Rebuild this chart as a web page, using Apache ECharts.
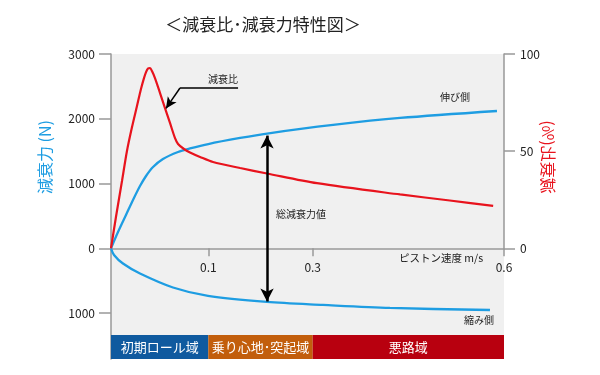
<!DOCTYPE html>
<html>
<head>
<meta charset="utf-8">
<script src="https://cdn.jsdelivr.net/npm/echarts@6/dist/echarts.min.js"></script>
<style>html,body{margin:0;padding:0;background:#fff;}#c{width:600px;height:375px;}</style>
</head>
<body>
<div id="c"></div>
<script>
// ---- Data ----
const titleText = '＜減衰比･減衰力特性図＞';
const leftAxisName = '減衰力 (N)';
const rightAxisName = '減衰比(%)';
const xAxisName = 'ピストン速度 m/s';

// piston speed (m/s) vs damping force (N), extension side
const tensionSpeed = [0, 0.0072, 0.0154, 0.0236, 0.0298, 0.036, 0.0432, 0.0534, 0.0689, 0.0812, 0.1, 0.161, 0.2125, 0.332, 0.437, 0.589];
const tensionForce = [0, 251, 514, 776, 961, 1116, 1255, 1379, 1487, 1541, 1610, 1703, 1772, 1904, 2012, 2120];
// compression side
const compSpeed = [0, 0.0031, 0.0123, 0.0298, 0.0637, 0.0997, 0.2125, 0.316, 0.421, 0.578];
const compForce = [0, -103, -236, -390, -606, -736, -829, -875, -922, -953];
// damping ratio (%)
const ratioSpeed = [0, 0.0051, 0.0113, 0.0164, 0.0216, 0.0267, 0.0308, 0.0339, 0.036, 0.038, 0.0401, 0.0421, 0.0452, 0.0504, 0.0555, 0.0607, 0.0658, 0.0689, 0.075, 0.0812, 0.0915, 0.109, 0.161, 0.2125, 0.3067, 0.437, 0.515, 0.583];
const ratioValue = [0, 16.1, 34.6, 50.1, 62.4, 73.2, 82.0, 87.6, 90.7, 92.5, 92.8, 91.2, 87.6, 79.9, 72.1, 64.4, 56.7, 53.7, 51.1, 49.3, 47.0, 44.4, 41.3, 38.5, 33.5, 27.7, 24.6, 21.8];

// x-axis ticks (schematic, piecewise scale)
const xTickSpeeds = [0.1, 0.3, 0.6];
const xTickLabels = ['0.1', '0.3', '0.6'];
const leftTicks = [-1000, 0, 1000, 2000, 3000];
const rightTicks = [0, 50, 100];

// speed regions
const regionNames = ['初期ロール域', '乗り心地･突起域', '悪路域'];
const regionStart = [0, 0.1, 0.3];
const regionEnd = [0.1, 0.3, 0.6];
const regionColors = ['#0f5a9f', '#c25e0c', '#b8000f'];

// annotation: total damping force arrow at this speed
const arrowSpeed = 0.2125;
const arrowTop = 1740;
const arrowBottom = -822;

// ---- schematic piecewise x scale ----
const scaleSpeeds = [0, 0.1, 0.3, 0.6];
const scaleUnits = [0, 1, 2.073, 4.039];
function toUnit(s) {
  for (let i = 1; i < scaleSpeeds.length; i++) {
    if (s <= scaleSpeeds[i] || i === scaleSpeeds.length - 1) {
      const t = (s - scaleSpeeds[i - 1]) / (scaleSpeeds[i] - scaleSpeeds[i - 1]);
      return scaleUnits[i - 1] + t * (scaleUnits[i] - scaleUnits[i - 1]);
    }
  }
  return 0;
}
const U_MAX = toUnit(0.6);
const zip = (xs, ys) => xs.map((x, i) => [toUnit(x), ys[i]]);

const BLUE = '#1e9de2';
const RED = '#e8131d';
const FONT = '"Noto Sans CJK JP", "Noto Sans", sans-serif';

const chart = echarts.init(document.getElementById('c'), null, {renderer: 'canvas'});

const option = {
  animation: false,
  textStyle: {fontFamily: FONT},
  grid: [
    {left: 111, right: 96, top: 54, bottom: 16, show: true, backgroundColor: '#f0f0f0', borderWidth: 0, containLabel: false, outerBoundsMode: 'none'},
    {left: 111, right: 96, top: 54, bottom: 126.73, show: false, containLabel: false, outerBoundsMode: 'none'}
  ],
  xAxis: [
    {type: 'value', gridIndex: 0, min: 0, max: U_MAX, show: false},
    {
      type: 'value', gridIndex: 1, min: 0, max: U_MAX, position: 'bottom',
      axisLine: {show: true, onZero: false, lineStyle: {color: '#999', width: 1.5}},
      axisTick: {show: true, length: 8, customValues: xTickSpeeds.map(toUnit), lineStyle: {color: '#999', width: 1.5}},
      axisLabel: {
        customValues: xTickSpeeds.map(toUnit), margin: 13, fontSize: 12, color: '#222', fontFamily: FONT,
        formatter: v => {
          let best = 0;
          xTickSpeeds.forEach((s, i) => { if (Math.abs(toUnit(s) - v) < Math.abs(toUnit(xTickSpeeds[best]) - v)) best = i; });
          return xTickLabels[best];
        }
      },
      splitLine: {show: false}
    }
  ],
  yAxis: [
    {
      type: 'value', gridIndex: 0, min: -1710, max: 3000,
      axisLine: {show: true, onZero: false, lineStyle: {color: '#999', width: 1.5}},
      axisTick: {show: true, length: 12, customValues: leftTicks, lineStyle: {color: '#999', width: 1.5}},
      axisLabel: {customValues: leftTicks, margin: 16, fontSize: 12, color: '#222', fontFamily: FONT, formatter: v => String(Math.abs(v))},
      splitLine: {show: false}
    },
    {
      type: 'value', gridIndex: 1, position: 'right', min: 0, max: 100,
      axisLine: {show: true, onZero: false, lineStyle: {color: '#999', width: 1.5}},
      axisTick: {show: true, length: 11, customValues: rightTicks, lineStyle: {color: '#999', width: 1.5}},
      axisLabel: {customValues: rightTicks, margin: 16, fontSize: 12, color: '#222', fontFamily: FONT},
      splitLine: {show: false}
    }
  ],
  series: [
    {
      name: '伸び側', type: 'line', xAxisIndex: 0, yAxisIndex: 0,
      data: zip(tensionSpeed, tensionForce), smooth: 0.3, symbol: 'none',
      lineStyle: {color: BLUE, width: 2.3}, z: 3,
      markArea: {
        silent: true,
        label: {show: true, position: 'inside', color: '#fff', fontSize: 13, fontFamily: FONT},
        data: regionNames.map((n, i) => [
          {name: n, xAxis: toUnit(regionStart[i]), yAxis: -1710, itemStyle: {color: regionColors[i]}},
          {xAxis: toUnit(regionEnd[i]), yAxis: -1340}
        ])
      },
      markLine: {
        silent: true, symbol: ['arrow', 'arrow'], symbolSize: [10, 13],
        label: {show: false},
        lineStyle: {color: '#000', width: 2.5, type: 'solid'},
        data: [[{coord: [toUnit(arrowSpeed), arrowTop]}, {coord: [toUnit(arrowSpeed), arrowBottom]}]]
      }
    },
    {
      name: '縮み側', type: 'line', xAxisIndex: 0, yAxisIndex: 0,
      data: zip(compSpeed, compForce), smooth: 0.3, symbol: 'none',
      lineStyle: {color: BLUE, width: 2.3}, z: 3
    },
    {
      name: '減衰比', type: 'line', xAxisIndex: 1, yAxisIndex: 1,
      data: zip(ratioSpeed, ratioValue), smooth: 0.3, symbol: 'none',
      lineStyle: {color: RED, width: 2.2}, z: 4,
      markLine: {
        silent: true, symbol: ['none', 'arrow'], symbolSize: [8, 11],
        label: {show: false},
        lineStyle: {color: '#000', width: 1.5, type: 'solid'},
        data: [
          [{coord: [toUnit(0.157), 82.5], symbol: 'none'}, {coord: [toUnit(0.0709), 82.5], symbol: 'none'}],
          [{coord: [toUnit(0.0709), 82.5], symbol: 'none'}, {coord: [toUnit(0.0565), 72]}]
        ]
      }
    }
  ],
  graphic: [
    {type: 'text', x: 263, y: 25, style: {text: titleText, fontSize: 17, fontFamily: FONT, fill: '#222', align: 'center', verticalAlign: 'middle'}},
    {type: 'text', x: 45, y: 157, rotation: Math.PI / 2, style: {text: leftAxisName, fontSize: 16, fontFamily: FONT, fill: BLUE, align: 'center', verticalAlign: 'middle'}},
    {type: 'text', x: 548, y: 157, rotation: Math.PI / 2, scaleY: -1, style: {text: rightAxisName, fontSize: 16, fontFamily: FONT, fill: RED, align: 'center', verticalAlign: 'middle'}},
    {type: 'text', x: 223, y: 79, z: 10, style: {text: '減衰比', fontSize: 10, fontFamily: FONT, fill: '#222', align: 'center', verticalAlign: 'middle'}},
    {type: 'text', x: 301, y: 214, z: 10, style: {text: '総減衰力値', fontSize: 10, fontFamily: FONT, fill: '#222', align: 'center', verticalAlign: 'middle'}},
    {type: 'text', x: 455, y: 97, z: 10, style: {text: '伸び側', fontSize: 10, fontFamily: FONT, fill: '#222', align: 'center', verticalAlign: 'middle'}},
    {type: 'text', x: 479, y: 320, z: 10, style: {text: '縮み側', fontSize: 10, fontFamily: FONT, fill: '#222', align: 'center', verticalAlign: 'middle'}},
    {type: 'text', x: 441, y: 258, z: 10, style: {text: xAxisName, fontSize: 10.5, fontFamily: FONT, fill: '#222', align: 'center', verticalAlign: 'middle'}}
  ]
};
chart.setOption(option);
</script>
</body>
</html>
